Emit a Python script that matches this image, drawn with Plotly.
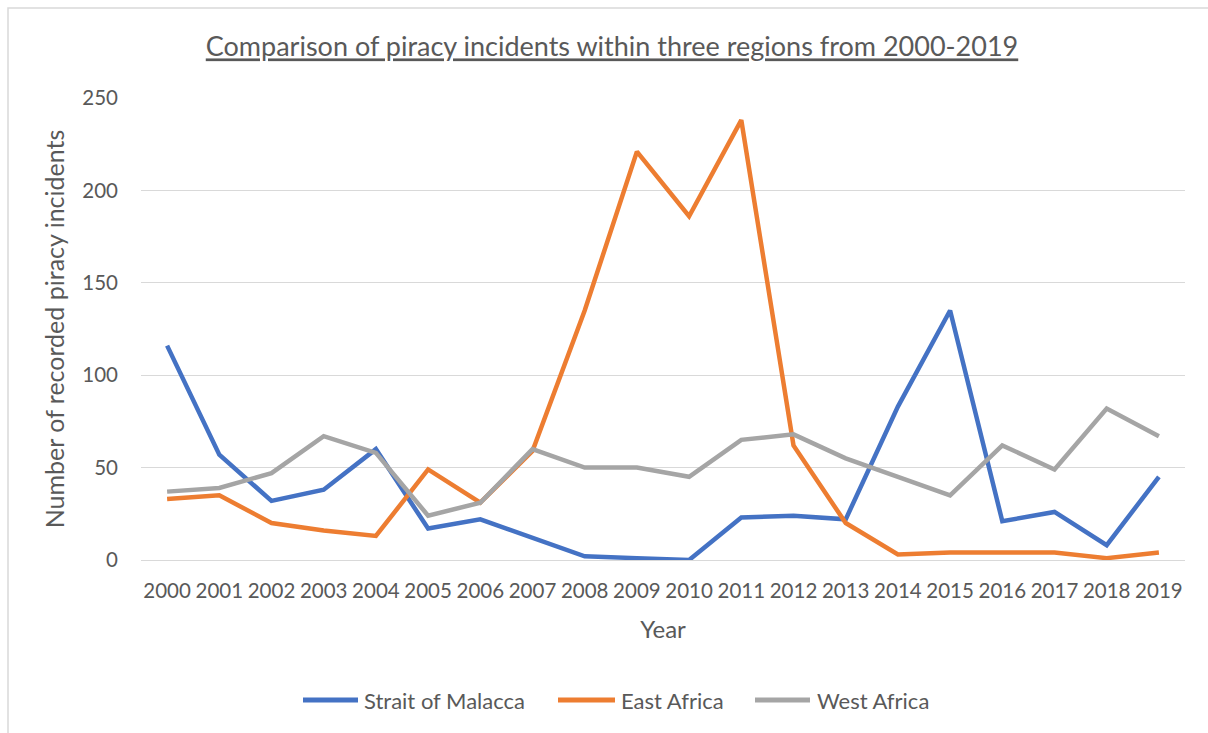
import plotly.graph_objects as go

years = [str(y) for y in range(2000, 2020)]

strait_of_malacca = [116, 57, 32, 38, 60, 17, 22, 12, 2, 1, 0, 23, 24, 22, 83, 135, 21, 26, 8, 45]
east_africa = [33, 35, 20, 16, 13, 49, 31, 59, 135, 221, 186, 238, 62, 20, 3, 4, 4, 4, 1, 4]
west_africa = [37, 39, 47, 67, 58, 24, 31, 60, 50, 50, 45, 65, 68, 55, 45, 35, 62, 49, 82, 67]

series_names = ["Strait of Malacca", "East Africa", "West Africa"]
series_colors = ["#4472C4", "#ED7D31", "#A5A5A5"]

y_ticks = [0, 50, 100, 150, 200, 250]

FONT = "Lato"
TEXT = "#595959"
GRID = "#D9D9D9"

W, H = 1208, 733
L, R, T, B = 141, 23, 98, 173
pw, ph = W - L - R, H - T - B


def px_x(x):
    return (x - L) / pw


def px_y(y):
    return (T + ph - y) / ph


fig = go.Figure()
for name, values, color in zip(series_names,
                               [strait_of_malacca, east_africa, west_africa],
                               series_colors):
    fig.add_trace(go.Scatter(
        x=years, y=values, name=name, mode="lines",
        line=dict(color=color, width=4.5, shape="linear"),
        showlegend=False,
    ))

fig.update_layout(
    width=W, height=H,
    margin=dict(l=L, r=R, t=T, b=B),
    paper_bgcolor="white", plot_bgcolor="white",
    font=dict(family=FONT, color=TEXT, size=20),
    title=dict(
        text="<u>Comparison of piracy incidents within three regions from 2000-2019</u>",
        x=612 / W, xanchor="center",
        y=1 - 47 / H, yanchor="middle",
        font=dict(family=FONT, size=27, color=TEXT),
    ),
    xaxis=dict(
        type="category", range=[-0.5, 19.5],
        showgrid=False, showline=True, linecolor=GRID, linewidth=1,
        ticks="", tickfont=dict(size=20.5, color=TEXT),
        ticklabelstandoff=12,
        title=dict(text="Year", font=dict(size=24, color=TEXT), standoff=20),
    ),
    yaxis=dict(
        range=[0, 250], tickvals=y_ticks,
        showgrid=True, gridcolor=GRID, gridwidth=1,
        zeroline=False, showline=False, ticks="",
        tickfont=dict(size=20.5, color=TEXT),
        ticklabelstandoff=22,
        title=dict(text="Number of recorded piracy incidents",
                   font=dict(size=25, color=TEXT), standoff=10),
    ),
    showlegend=False,
)

# thin frame around the chart area
fig.add_shape(
    type="rect", xref="paper", yref="paper",
    x0=px_x(8), x1=px_x(W + 10),
    y0=px_y(H + 10), y1=px_y(8),
    line=dict(color=GRID, width=1.5), fillcolor="rgba(0,0,0,0)",
    layer="below",
)

# legend row below the axis: a line sample followed by the series name
legend_y = 700
legend_items = [(303, 358, 362), (558, 615, 619), (755, 810, 815)]
for (x0, x1, xt), name, color in zip(legend_items, series_names, series_colors):
    fig.add_shape(
        type="line", xref="paper", yref="paper",
        x0=px_x(x0), x1=px_x(x1), y0=px_y(legend_y), y1=px_y(legend_y),
        line=dict(color=color, width=5),
    )
    fig.add_annotation(
        xref="paper", yref="paper", x=px_x(xt), y=px_y(legend_y),
        xanchor="left", yanchor="middle", showarrow=False,
        text=name, font=dict(family=FONT, size=22, color=TEXT),
    )

fig.write_html("out.html")
